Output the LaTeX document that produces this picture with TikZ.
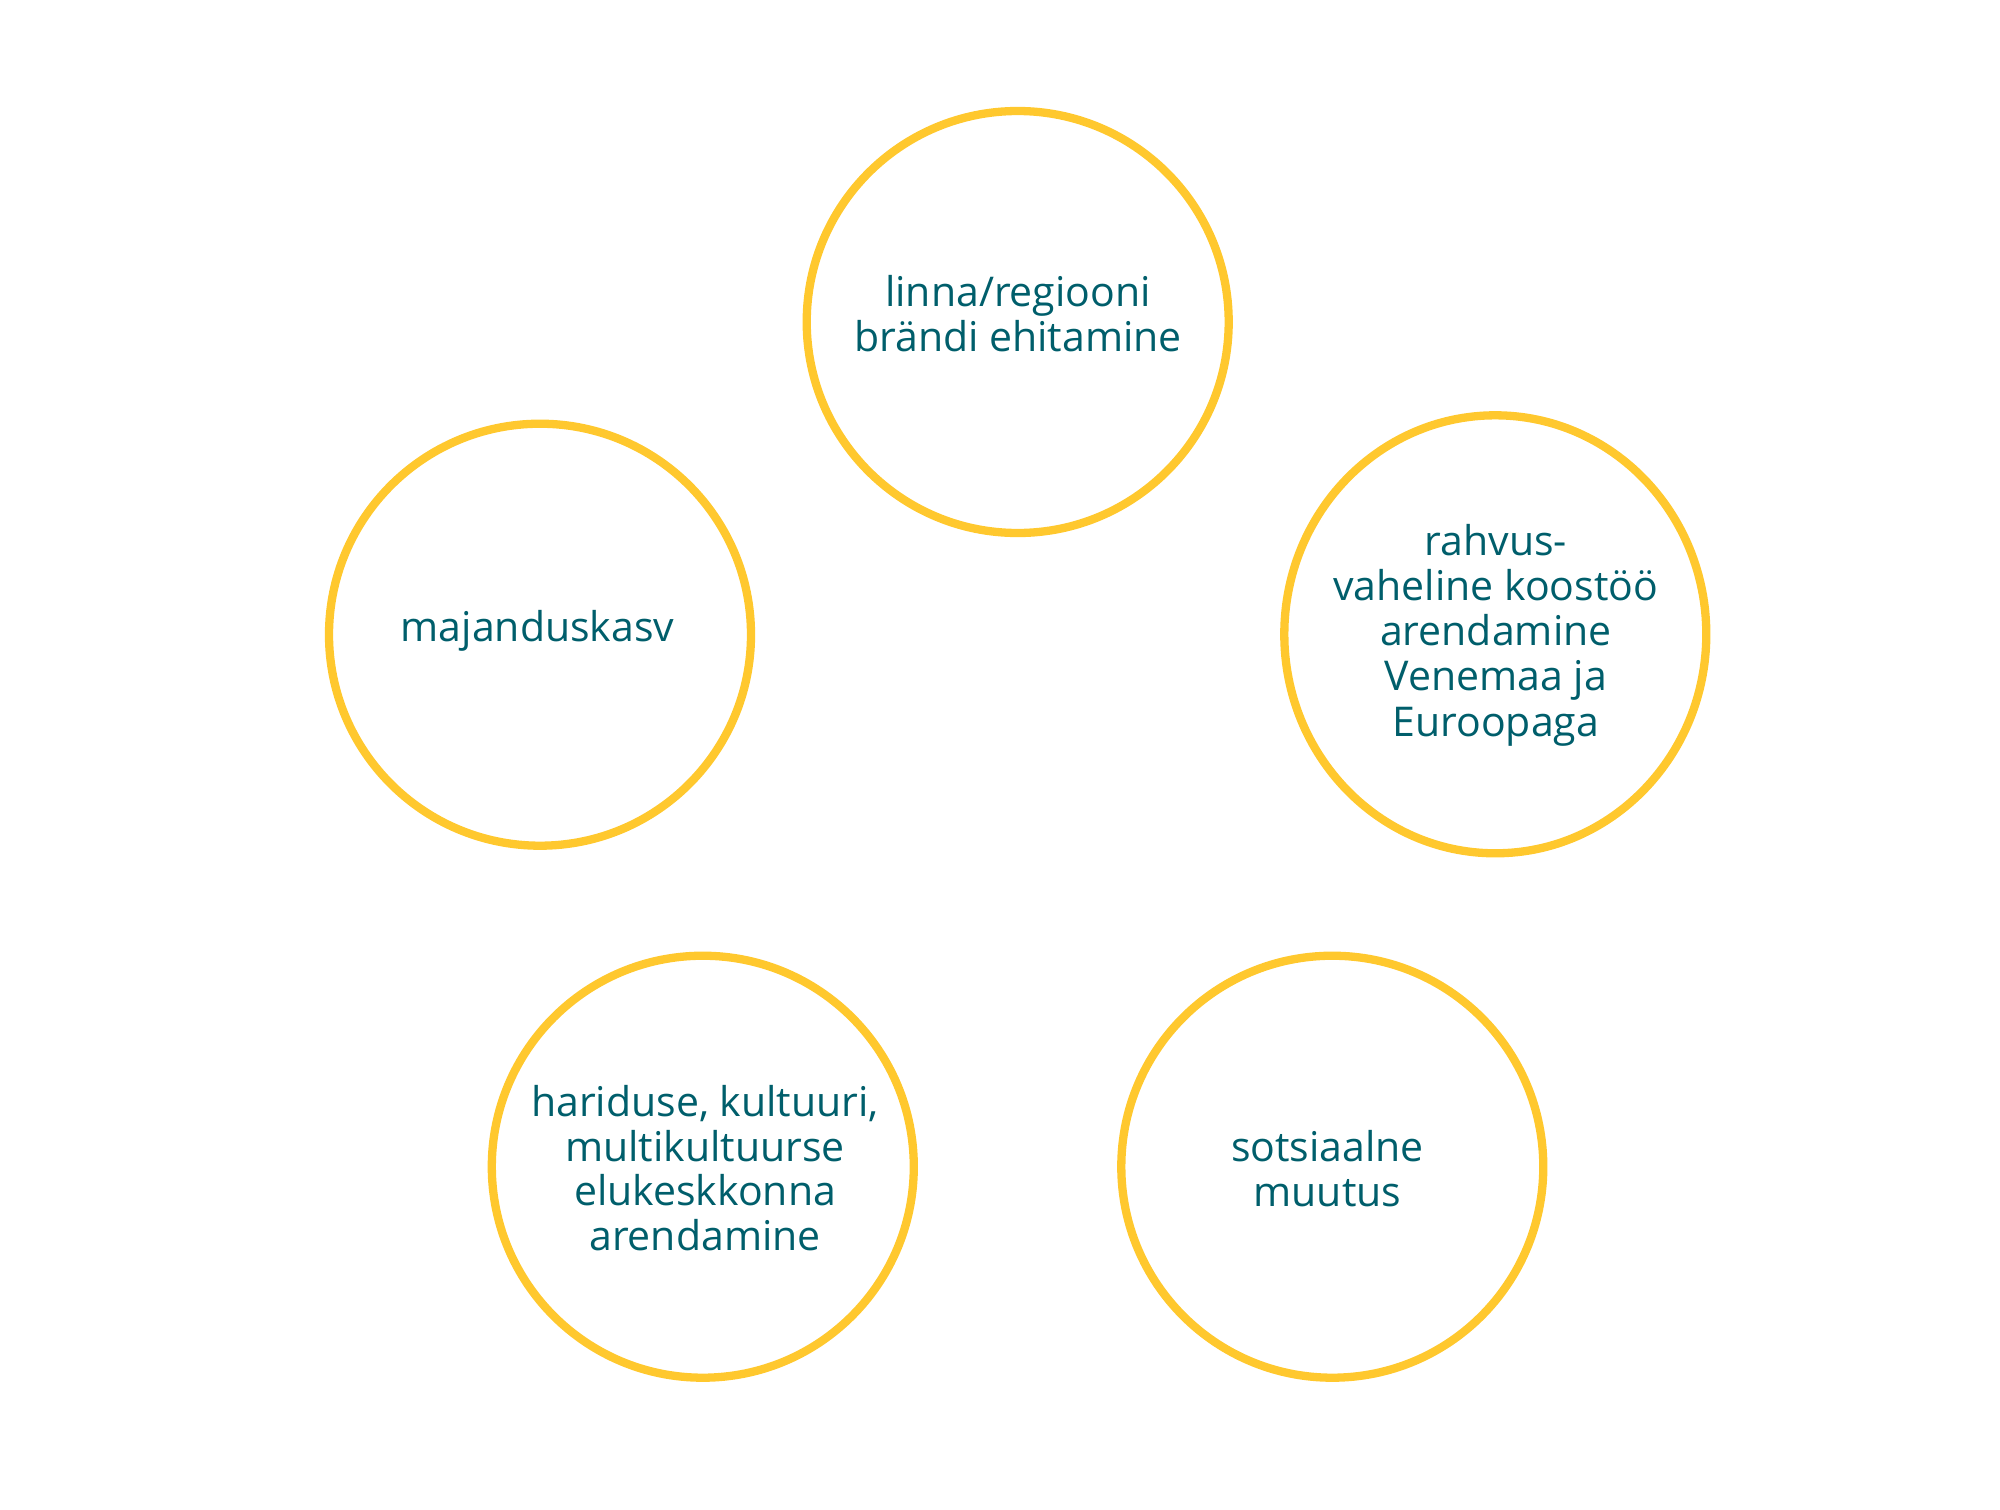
\documentclass[tikz,border=0pt]{standalone}
\usepackage{fontspec}
\setmainfont{Open Sans}
\definecolor{ringyellow}{HTML}{FFC82E}
\definecolor{labelteal}{HTML}{005E6B}
\begin{document}
\begin{tikzpicture}[x=1pt,y=-1pt,
  ring/.style={draw=ringyellow, line width=8.3pt},
  label/.style={anchor=base, inner sep=0pt, text=labelteal,
    font=\fontsize{41}{44.5}\selectfont}]
\useasboundingbox (0,0) rectangle (2000,1510);
\coordinate (cTop) at (1017.7,322);
\coordinate (cLeft) at (540,634.7);
\coordinate (cRight) at (1495.3,634.3);
\coordinate (cBL) at (702.8,1166.7);
\coordinate (cBR) at (1332.3,1166.7);
\draw[ring] (cTop) circle[radius=211];
\draw[ring] (cLeft) circle[radius=211];
\draw[ring] (cRight) ellipse[x radius=211, y radius=219];
\draw[ring] (cBL) circle[radius=211];
\draw[ring] (cBR) circle[radius=211];
\node[label] (tTop) at (1018,306.7) {\begin{tabular}[t]{@{}c@{}}linna/regiooni\\brändi ehitamine\end{tabular}};
\node[label] (tLeft) at (537.5,641) {majanduskasv};
\node[label, font=\fontsize{41}{45.3}\selectfont] (tRight) at (1495.8,555) {\begin{tabular}[t]{@{}c@{}}rahvus-\\vaheline koostöö\\arendamine\\Venemaa ja\\Euroopaga\end{tabular}};
\node[label] (tBL) at (705,1116.7) {\begin{tabular}[t]{@{}c@{}}hariduse, kultuuri,\\multikultuurse\\elukeskkonna\\arendamine\end{tabular}};
\node[label] (tBR) at (1327.5,1161.7) {\begin{tabular}[t]{@{}c@{}}sotsiaalne\\muutus\end{tabular}};
\end{tikzpicture}
\end{document}
